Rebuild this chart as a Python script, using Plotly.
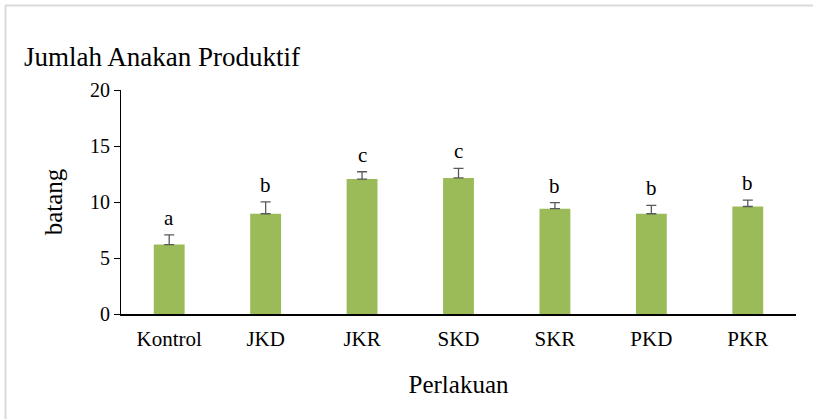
import plotly.graph_objects as go

categories = ["Kontrol", "JKD", "JKR", "SKD", "SKR", "PKD", "PKR"]
values = [6.2, 8.95, 12.05, 12.15, 9.4, 8.95, 9.6]
errors = [0.86, 1.07, 0.65, 0.86, 0.54, 0.75, 0.57]
letters = ["a", "b", "c", "c", "b", "b", "b"]
y_ticks = [0, 5, 10, 15, 20]

W, H = 813, 419
L, R, T, B = 121, 17, 90, 105
FONT = "Liberation Serif, Times New Roman, serif"

fig = go.Figure()
fig.add_trace(go.Bar(
    x=categories, y=values,
    marker=dict(color="#9BBB59", line=dict(width=0)),
    error_y=dict(type="data", array=errors, arrayminus=[0]*len(errors),
                 symmetric=False, color="#595959", thickness=1.3, width=5),
))

for c, v, e, t in zip(categories, values, errors, letters):
    fig.add_annotation(x=c, y=v + e, text=t, showarrow=False,
                       yanchor="bottom", yshift=3,
                       font=dict(family=FONT, size=21, color="#000000"))

pw = W - L - R
ph = H - T - B
def px_x(p):
    return (p - L) / pw
def px_y(p):
    return (H - B - p) / ph

fig.add_shape(type="line", xref="paper", yref="paper",
              x0=px_x(5), x1=px_x(813), y0=px_y(5.5), y1=px_y(5.5),
              line=dict(color="#D9D9D9", width=2))
fig.add_shape(type="line", xref="paper", yref="paper",
              x0=px_x(5.5), x1=px_x(5.5), y0=px_y(5.5), y1=px_y(419),
              line=dict(color="#D9D9D9", width=2))

fig.update_layout(
    width=W, height=H,
    margin=dict(l=L, r=R, t=T, b=B),
    paper_bgcolor="white", plot_bgcolor="white",
    showlegend=False,
    bargap=0.68,
    font=dict(family=FONT, color="#000000"),
    title=dict(text="Jumlah Anakan Produktif", xref="container", yref="container",
               x=24 / W, xanchor="left", y=1 - 57 / H, yanchor="middle",
               font=dict(family=FONT, size=27, color="#000000")),
    xaxis=dict(
        showline=True, linecolor="#000000", linewidth=1.5,
        ticks="", ticklabelstandoff=5,
        tickfont=dict(family=FONT, size=21, color="#000000"),
        title=dict(text="Perlakuan", font=dict(family=FONT, size=25, color="#000000"), standoff=26),
        showgrid=False, zeroline=False,
    ),
    yaxis=dict(
        range=[0, 20], tickvals=y_ticks,
        showline=True, linecolor="#000000", linewidth=1.2,
        ticks="outside", ticklen=6, tickcolor="#000000",
        tickfont=dict(family=FONT, size=20, color="#000000"),
        title=dict(text="batang", font=dict(family=FONT, size=25, color="#000000"), standoff=20),
        showgrid=False, zeroline=False,
    ),
)

fig.write_html("out.html", config={"displayModeBar": False},
               post_script="document.body.style.margin='0';")
